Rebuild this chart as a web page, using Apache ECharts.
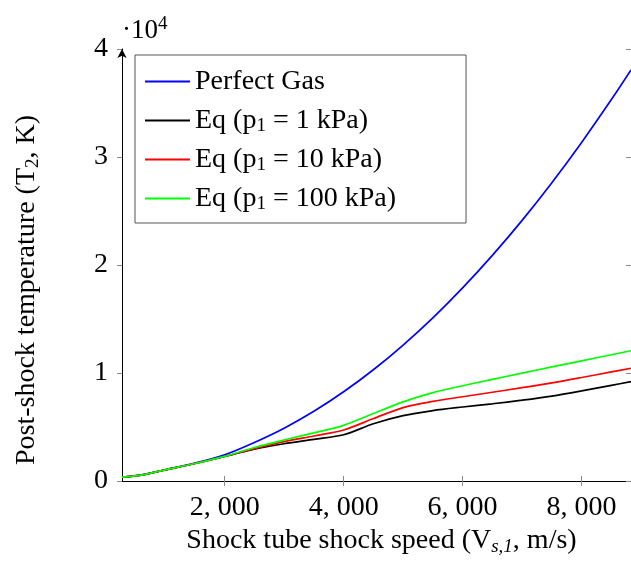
<!DOCTYPE html>
<html>
<head>
<meta charset="utf-8">
<script src="https://cdn.jsdelivr.net/npm/echarts@6/dist/echarts.min.js"></script>
<style>
html,body{margin:0;padding:0;background:#fff;}
#chart{width:631px;height:563px;}
</style>
</head>
<body>
<div id="chart"></div>
<script>
// Shock speed (m/s)
const speed = [275, 600, 1000, 1500, 2000, 2500, 3000, 3500, 4000, 4500, 5000, 5500, 6000, 6500, 7000, 7500, 8000, 8500, 8830];
// Post-shock temperature (K)
const perfectGas = [350, 560, 1040, 1650, 2430, 3570, 4890, 6450, 8260, 10300, 12590, 15110, 17880, 20890, 24130, 27620, 31350, 35320, 38060];
const eq1kPa    = [350, 550, 1030, 1620, 2270, 2950, 3450, 3860, 4280, 5300, 6050, 6520, 6850, 7150, 7480, 7860, 8340, 8860, 9200];
const eq10kPa   = [350, 550, 1030, 1620, 2270, 3000, 3650, 4170, 4720, 5780, 6800, 7370, 7800, 8220, 8640, 9080, 9580, 10100, 10440];
const eq100kPa  = [350, 550, 1030, 1620, 2280, 3100, 3800, 4450, 5150, 6250, 7330, 8180, 8820, 9410, 9990, 10560, 11130, 11690, 12060];

const seriesNames = ['Perfect Gas', 'Eq (p1 = 1 kPa)', 'Eq (p1 = 10 kPa)', 'Eq (p1 = 100 kPa)'];
const seriesValues = [perfectGas, eq1kPa, eq10kPa, eq100kPa];
const seriesColors = ['#0000ff', '#000000', '#ff0000', '#00ff00'];
const xTicks = [2000, 4000, 6000, 8000];

const FONT = 'Liberation Serif';
const chart = echarts.init(document.getElementById('chart'), null, {renderer: 'canvas'});

function pairs(vals) { return speed.map((s, i) => [s, vals[i]]); }

const legendText = {
  'Perfect Gas': 'Perfect Gas',
  'Eq (p1 = 1 kPa)': 'Eq (p{sub|1} = 1 kPa)',
  'Eq (p1 = 10 kPa)': 'Eq (p{sub|1} = 10 kPa)',
  'Eq (p1 = 100 kPa)': 'Eq (p{sub|1} = 100 kPa)'
};

const tickColor = '#8a8a8a';
const commonX = {
  type: 'value', min: 275, max: 8830,
  splitLine: {show: false}
};

chart.setOption({
  animation: false,
  backgroundColor: '#fff',
  grid: {left: 122, right: 0, top: 49, bottom: 82, containLabel: false, outerBoundsMode: 'none'},
  xAxis: [
    Object.assign({}, commonX, {
      position: 'bottom',
      axisLine: {show: true, lineStyle: {color: '#000', width: 1}},
      axisTick: {show: true, inside: false, length: 5, lineStyle: {color: tickColor}, customValues: xTicks},
      axisLabel: {
        show: true, customValues: xTicks, margin: 13,
        fontFamily: FONT, fontSize: 28, color: '#000',
        formatter: v => { const s = String(Math.round(v)); return s.length > 3 ? s.slice(0, -3) + ', ' + s.slice(-3) : s; }
      },
      name: 'Shock tube shock speed (V{sub|s,1}, m/s)',
      nameLocation: 'middle', nameGap: 43,
      nameTextStyle: {
        fontFamily: FONT, fontSize: 28, color: '#000', padding: [0, 0, 0, 10],
        rich: {sub: {fontFamily: FONT, fontSize: 19, fontStyle: 'italic', verticalAlign: 'bottom', padding: [12, 0, 0, 0]}}
      }
    }),
    Object.assign({}, commonX, {
      position: 'bottom',
      axisLine: {show: false},
      axisTick: {show: true, inside: true, length: 5, lineStyle: {color: tickColor}, customValues: xTicks},
      axisLabel: {show: false}
    })
  ],
  yAxis: [
    {
      type: 'value', min: 0, max: 40000, interval: 10000,
      splitLine: {show: false},
      axisLine: {show: true, symbol: ['none', 'arrow'], symbolSize: [7, 9], lineStyle: {color: '#000', width: 1}},
      axisTick: {show: true, inside: false, length: 5, lineStyle: {color: tickColor}},
      axisLabel: {
        margin: 14, fontFamily: FONT, fontSize: 28, color: '#000',
        formatter: v => String(v / 10000)
      }
    },
    {
      type: 'value', min: 0, max: 40000, interval: 10000,
      splitLine: {show: false},
      axisLine: {show: false},
      axisTick: {show: true, inside: true, length: 5, lineStyle: {color: tickColor}},
      axisLabel: {show: false}
    }
  ],
  legend: {
    orient: 'vertical',
    left: 135, top: 55,
    padding: [11, 70, 9, 10],
    itemGap: 8,
    itemWidth: 45, itemHeight: 2,
    icon: 'rect',
    borderColor: '#555', borderWidth: 1,
    backgroundColor: '#fff',
    data: seriesNames,
    formatter: name => legendText[name],
    textStyle: {
      fontFamily: FONT, fontSize: 28, color: '#000', lineHeight: 31,
      rich: {sub: {fontFamily: FONT, fontSize: 19, verticalAlign: 'bottom', padding: [12, 0, 0, 0]}}
    }
  },
  graphic: [
    {
      type: 'text', left: 122, top: 15,
      style: {
        text: '·10{sup|4}', fontFamily: FONT, fontSize: 27, fill: '#000',
        rich: {sup: {fontFamily: FONT, fontSize: 19, verticalAlign: 'top', padding: [0, 0, 12, 0]}}
      }
    },
    {
      type: 'text', x: 27, y: 290, rotation: Math.PI / 2,
      style: {
        text: 'Post-shock temperature (T{sub|2}, K)', fontFamily: FONT, fontSize: 28, fill: '#000',
        align: 'center', verticalAlign: 'middle',
        rich: {sub: {fontFamily: FONT, fontSize: 19, verticalAlign: 'bottom', padding: [12, 0, 0, 0]}}
      }
    }
  ],
  series: seriesNames.map((n, i) => ({
    name: n, type: 'line', xAxisIndex: 0, yAxisIndex: 0,
    data: pairs(seriesValues[i]),
    smooth: 0.3, symbol: 'none', showSymbol: false,
    lineStyle: {color: seriesColors[i], width: 1.7},
    itemStyle: {color: seriesColors[i]},
    clip: true
  }))
});
</script>
</body>
</html>
